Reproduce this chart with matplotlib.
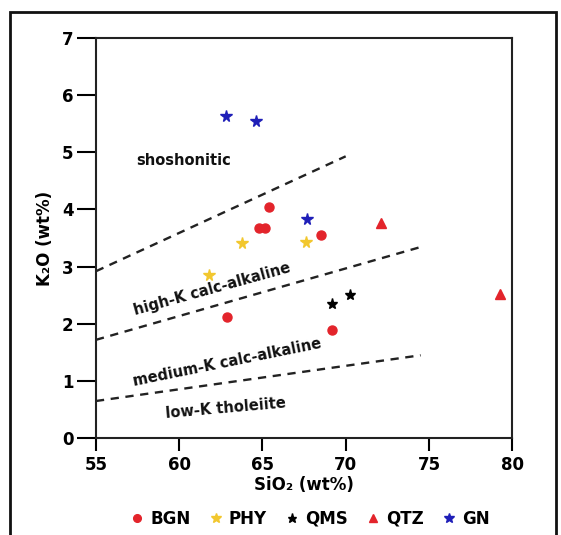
import matplotlib
matplotlib.use("Agg")
import matplotlib.pyplot as plt
from matplotlib.patches import Rectangle

# Data
bgn_x = [65.4, 64.8, 65.15, 68.5, 62.85, 69.15]
bgn_y = [4.05, 3.68, 3.68, 3.55, 2.12, 1.89]
phy_x = [63.75, 67.6, 61.8]
phy_y = [3.42, 3.44, 2.85]
qms_x = [69.2, 70.25]
qms_y = [2.35, 2.50]
qtz_x = [72.1, 79.25]
qtz_y = [3.76, 2.52]
gn_x = [62.8, 64.6, 67.65]
gn_y = [5.64, 5.55, 3.84]

# boundary lines
line_shosh_x = [55, 70.0]
line_shosh_y = [2.92, 4.93]
line_highk_x = [55, 74.7]
line_highk_y = [1.72, 3.36]
line_medk_x = [55, 74.5]
line_medk_y = [0.65, 1.45]

xticks = [55, 60, 65, 70, 75, 80]
yticks = [0, 1, 2, 3, 4, 5, 6, 7]

plt.rcParams['font.family'] = ['DejaVu Sans']
fig = plt.figure(figsize=(5.61, 5.35), dpi=100)
ax = fig.add_axes([0.171, 0.181, 0.742, 0.748])

dash = (0, (3.5, 2.8))
for lx, ly in [(line_shosh_x, line_shosh_y), (line_highk_x, line_highk_y), (line_medk_x, line_medk_y)]:
    ax.plot(lx, ly, color='#222222', lw=1.7, linestyle=dash)

red = '#e3242b'
gold = '#f2c72e'
blue = '#1f1fb8'
ax.plot(bgn_x, bgn_y, 'o', color=red, ms=6.5, ls='none', label='BGN')
ax.plot(phy_x, phy_y, '*', color=gold, ms=8.5, ls='none', label='PHY')
ax.plot(qms_x, qms_y, '*', color='black', ms=8, ls='none', label='QMS')
ax.plot(qtz_x, qtz_y, '^', color=red, ms=7, ls='none', label='QTZ')
ax.plot(gn_x, gn_y, '*', color=blue, ms=8.5, ls='none', label='GN')

tkw = dict(fontsize=10.5, fontweight='bold', color='#111111')
ax.text(57.4, 4.85, 'shoshonitic', va='center', ha='left', **tkw)
ax.text(62.0, 2.6, 'high-K calc-alkaline', va='center', ha='center', rotation=15.5, **tkw)
ax.text(62.9, 1.33, 'medium-K calc-alkaline', va='center', ha='center', rotation=11.5, **tkw)
ax.text(62.8, 0.52, 'low-K tholeiite', va='center', ha='center', rotation=5, **tkw)

ax.set_xlim(55, 80)
ax.set_ylim(0, 7)
ax.set_xticks(xticks)
ax.set_yticks(yticks)
for s in ax.spines.values():
    s.set_linewidth(1.5)
    s.set_color('#222222')
ax.tick_params(axis='y', direction='out', length=14, width=1.5, labelsize=12, pad=2)
ax.tick_params(axis='x', direction='out', length=9, width=1.5, labelsize=12, pad=4)
for lab in ax.get_xticklabels() + ax.get_yticklabels():
    lab.set_fontweight('bold')

ax.set_xlabel('SiO₂ (wt%)', fontsize=12, fontweight='bold', labelpad=1)
ax.set_ylabel('K₂O (wt%)', fontsize=12, fontweight='bold', labelpad=6)

leg = fig.legend(loc='center', bbox_to_anchor=(0.55, 0.03), ncol=5, frameon=False,
                 prop={'weight': 'bold', 'size': 12}, handletextpad=0.2,
                 columnspacing=0.9, handlelength=1.2, markerscale=0.85)

fig.patches.append(Rectangle((10/561, -0.05), 546/561, 1 - 12/535 + 0.05,
                             transform=fig.transFigure, fill=False,
                             edgecolor='#111111', lw=2))

fig.savefig('out.png', dpi=100)
